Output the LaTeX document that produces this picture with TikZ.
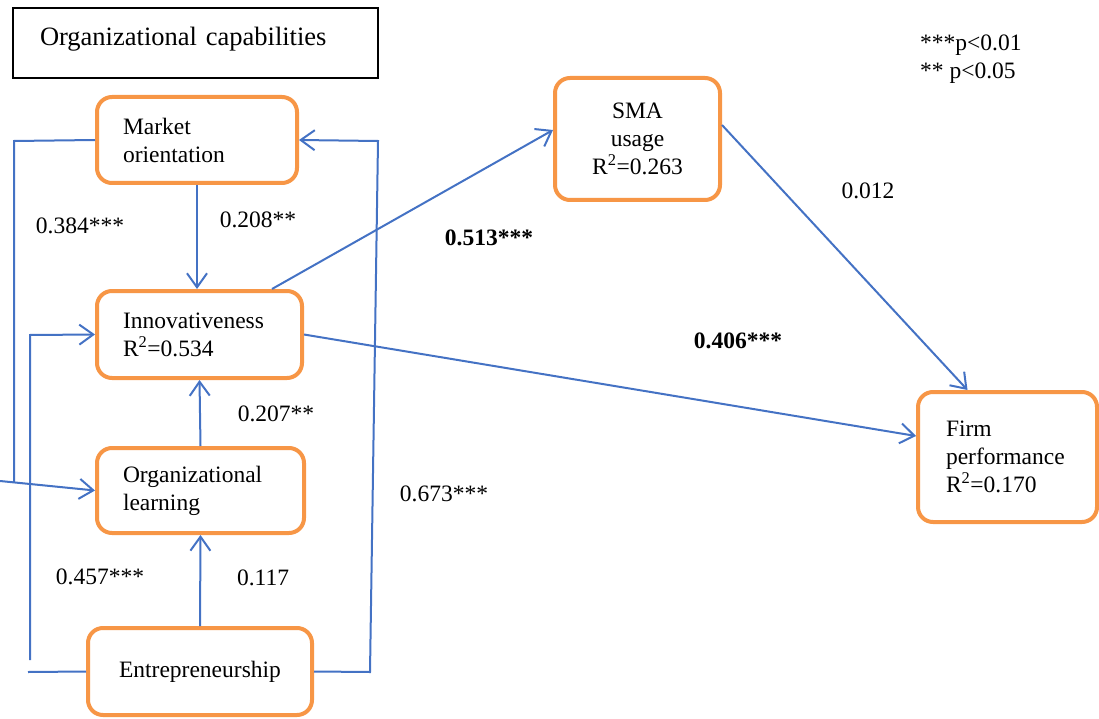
\documentclass[tikz,border=0pt]{standalone}
\usepackage{fontspec}
\setmainfont{Liberation Serif}
\usetikzlibrary{arrows.meta,positioning}
\definecolor{linkblue}{RGB}{68,114,196}
\definecolor{boxorange}{RGB}{247,150,70}
\tikzset{
  construct/.style={
    rounded corners=15pt,
    draw=boxorange,
    line width=4pt,
    fill=white,
    align=left,
    inner xsep=26pt,
    inner ysep=0pt,
    font=\fontsize{23.5}{28}\selectfont
  },
  capbox/.style={
    draw=black,
    line width=1.2pt,
    align=left,
    inner xsep=27pt,
    text height=19pt,
    text depth=13pt,
    font=\fontsize{26.5}{30}\selectfont
  },
  coef/.style={
    inner sep=0pt,
    font=\fontsize{23.5}{28}\selectfont
  },
  link/.style={
    line width=2pt,
    linkblue
  },
  arrow/.style={
    -{Straight Barb[length=14pt,width=20pt]},
    line width=2pt,
    linkblue
  }
}
\begin{document}
\begin{tikzpicture}[x=1pt,y=-1pt]
\useasboundingbox (0,0) rectangle (1099,719);
% title box
\node[capbox, minimum width=365pt, minimum height=70pt, text width=311pt] (cap) at (195.5,43) {Organizational capabilities};
% constructs
\node[construct, minimum width=200pt, minimum height=86pt, text width=148pt] (mkt) at (197,140) {Market\\orientation};
\node[construct, minimum width=205pt, minimum height=87pt, text width=153pt] (inn) at (199.5,334.5) {Innovativeness\\R\textsuperscript{2}=0.534};
\node[construct, minimum width=207pt, minimum height=85pt, text width=155pt] (orgl) at (200.5,490.5) {Organizational\\learning};
\node[construct, align=center, inner xsep=0pt, minimum width=224pt, minimum height=87pt, text width=224pt] (ent) at (200,671.5) {Entrepreneurship};
\node[construct, align=center, inner xsep=0pt, minimum width=165pt, minimum height=122pt, text width=165pt] (sma) at (637.5,139) {SMA\\usage\\R\textsuperscript{2}=0.263};
\node[construct, inner xsep=28pt, minimum width=179pt, minimum height=130pt, text width=123pt] (firm) at (1007.5,457) {Firm\\performance\\R\textsuperscript{2}=0.170};
% significance legend
\node[coef, anchor=west, align=left] (legend) at (920,59) {***p<0.01\\** p<0.05};
% free ends of the side connectors
\coordinate (mktleft) at (14,141);
\coordinate (mktdown) at (14,482);
\coordinate (orglin) at (0,481);
\coordinate (entleft) at (28,672);
\coordinate (innup) at (30,660);
\coordinate (innleft) at (30,335);
\coordinate (entright) at (370,672);
\coordinate (mktright) at (378,141);
% connectors
\draw[arrow] (mkt.south) -- (mkt.south |- inn.north);
\draw[arrow] (orgl.north) -- (inn.south);
\draw[arrow] (ent.north) -- (orgl.south);
\draw[link] (mkt.west) -- (mktleft) -- (mktdown);
\draw[arrow] (orglin) -- (orgl.west);
\draw[link] (ent.west) -- (entleft);
\draw[arrow] (innup) -- (innleft) -- (inn.west);
\draw[arrow] (ent.east) -- (entright) -- (mktright) -- (mkt.east);
\draw[arrow] ([xshift=-32pt]inn.north east) -- ([yshift=9pt]sma.west);
\draw[arrow] (inn.east) -- ([yshift=21pt]firm.west);
\draw[arrow] ([yshift=14pt]sma.east) -- ([xshift=-40pt]firm.north);
% path coefficients
\node[coef] (c384) at (80,226) {0.384***};
\node[coef] (c208) at (258,220) {0.208**};
\node[coef] (c513) at (489,238) {\textbf{0.513***}};
\node[coef] (c012) at (868,191) {0.012};
\node[coef] (c406) at (738,341) {\textbf{0.406***}};
\node[coef] (c207) at (276,414) {0.207**};
\node[coef] (c673) at (444,494) {0.673***};
\node[coef] (c457) at (100,577) {0.457***};
\node[coef] (c117) at (263,578) {0.117};
\end{tikzpicture}
\end{document}
